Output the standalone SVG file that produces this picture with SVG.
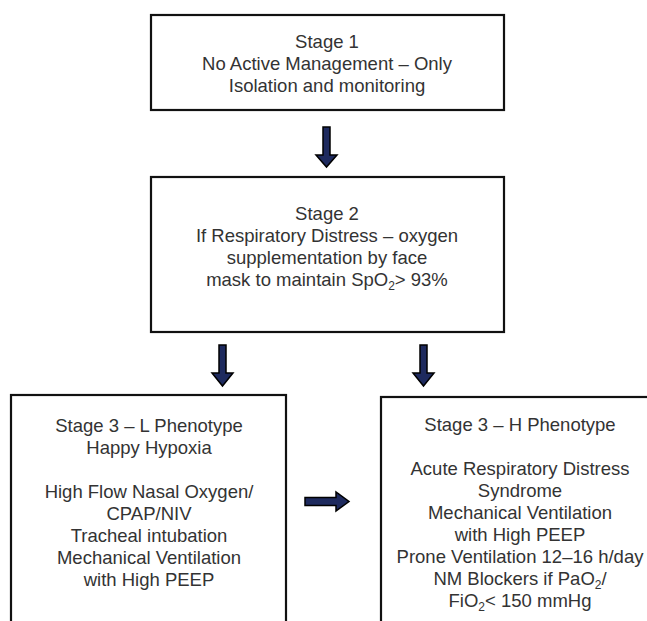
<svg xmlns="http://www.w3.org/2000/svg" width="647" height="621" viewBox="0 0 647 621">
<style>
.box{fill:#fff;stroke:#111;stroke-width:2.2}
.t{font-family:"Liberation Sans",Arial,sans-serif;font-size:18.5px;fill:#333;text-anchor:middle}
.arr{fill:#1e2a5e;stroke:#000;stroke-width:1.5;stroke-linejoin:miter}
.sub{font-size:12px}
</style>
<rect width="647" height="621" fill="#fff"/>
<g id="stage1">
<rect class="box" x="151" y="15" width="353" height="95"/>
<text class="t" x="327" y="48">Stage 1</text>
<text class="t" x="327" y="70">No Active Management – Only</text>
<text class="t" x="327" y="92">Isolation and monitoring</text>
</g>
<g id="stage2">
<rect class="box" x="151" y="177" width="353" height="155"/>
<text class="t" x="327" y="220">Stage 2</text>
<text class="t" x="327" y="242">If Respiratory Distress – oxygen</text>
<text class="t" x="327" y="264">supplementation by face</text>
<text class="t" x="327" y="286">mask to maintain SpO<tspan class="sub" dy="4">2</tspan><tspan dy="-4">&gt; 93%</tspan></text>
</g>
<g id="stage3L">
<rect class="box" x="11" y="395" width="275" height="240"/>
<text class="t" x="149" y="432">Stage 3 – L Phenotype</text>
<text class="t" x="149" y="454">Happy Hypoxia</text>
<text class="t" x="149" y="498">High Flow Nasal Oxygen/</text>
<text class="t" x="149" y="520">CPAP/NIV</text>
<text class="t" x="149" y="542">Tracheal intubation</text>
<text class="t" x="149" y="564">Mechanical Ventilation</text>
<text class="t" x="149" y="586">with High PEEP</text>
</g>
<g id="stage3H">
<rect class="box" x="381" y="397" width="290" height="240"/>
<text class="t" x="520" y="431">Stage 3 – H Phenotype</text>
<text class="t" x="520" y="475">Acute Respiratory Distress</text>
<text class="t" x="520" y="497">Syndrome</text>
<text class="t" x="520" y="519">Mechanical Ventilation</text>
<text class="t" x="520" y="541">with High PEEP</text>
<text class="t" x="520" y="563">Prone Ventilation 12–16 h/day</text>
<text class="t" x="520" y="585">NM Blockers if PaO<tspan class="sub" dy="4">2</tspan><tspan dy="-4">/</tspan></text>
<text class="t" x="520" y="607">FiO<tspan class="sub" dy="4">2</tspan><tspan dy="-4">&lt; 150 mmHg</tspan></text>
</g>
<g id="connectors">
<path class="arr" d="M323,127 H330 V155 H337 L326.5,167 L316,155 H323 Z"/>
<path class="arr" d="M219,345 H226 V373 H233 L222.5,386 L212,373 H219 Z"/>
<path class="arr" d="M420,345 H427 V373 H434 L423.5,386 L413,373 H420 Z"/>
<path class="arr" d="M305,497.5 H336 V492 L349,501.5 L336,511 V505.5 H305 Z"/>
</g>
</svg>
